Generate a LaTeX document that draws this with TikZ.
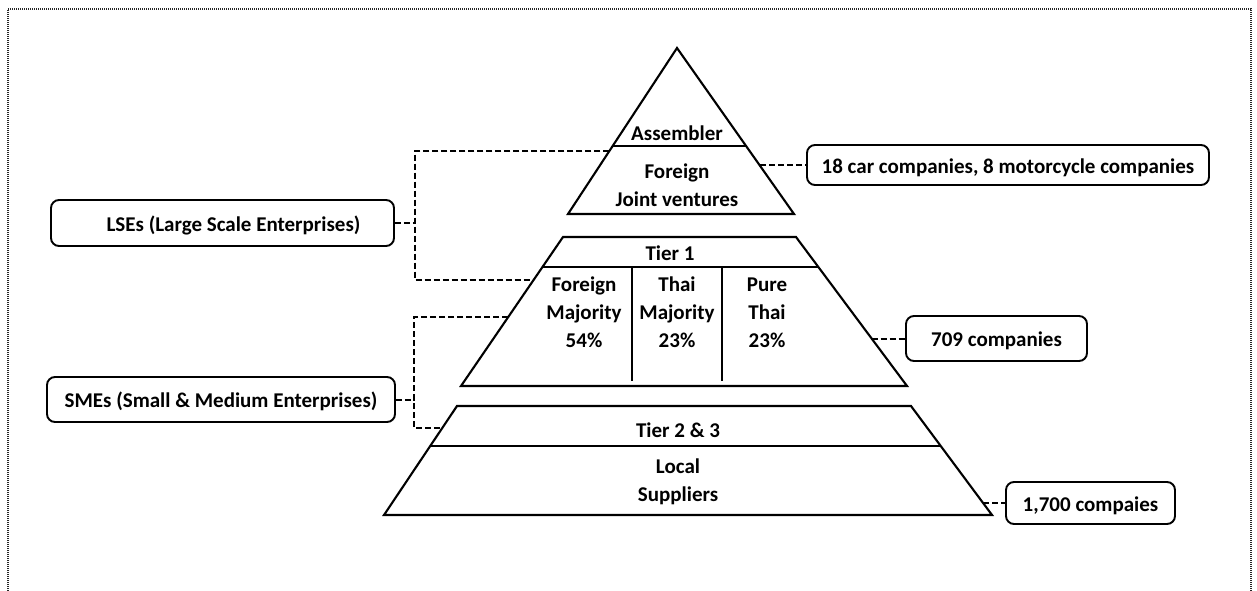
\documentclass[tikz,border=0pt]{standalone}
\usepackage{fontspec}
\setmainfont{Carlito}
\usetikzlibrary{calc}
\begin{document}
\begin{tikzpicture}[x=1pt,y=-1pt,
  pyr/.style={line width=2.1pt, line join=miter},
  lbl/.style={font=\fontsize{21}{28}\selectfont\bfseries, align=center, inner sep=0pt},
  infobox/.style={draw, line width=1.9pt, rounded corners=8pt, font=\fontsize{21}{24}\selectfont\bfseries, inner sep=0pt, text height=19pt, text depth=2.5pt},
  dashline/.style={line width=2pt, dash pattern=on 6pt off 3pt}]
\useasboundingbox (0,0) rectangle (1257,591);
\draw[dash pattern=on 1pt off 1pt, line width=1.1pt, black!85] (8,595) -- (8,9) -- (1251,9) -- (1251,595);
% pyramid
\draw[pyr] (677,48) -- (794,214) -- (568,214) -- cycle;
\draw[pyr] (613,146) -- (746,146);
\draw[pyr] (563,237) -- (796,237) -- (907,386) -- (461,386) -- cycle;
\draw[pyr] (542.5,267) -- (818.3,267);
\draw[pyr] (632,267) -- (632,381);
\draw[pyr] (722,267) -- (722,381);
\draw[pyr] (457,406) -- (911,406) -- (992,515) -- (384,515) -- cycle;
\draw[pyr] (430.2,446) -- (940.7,446);
% labels
\node[lbl] (asm) at (677,133) {Assembler};
\node[lbl] (fjv) at (677,185) {Foreign\\Joint ventures};
\node[lbl] (t1) at (670,253) {Tier 1};
\node[lbl] (fm) at (584,312.5) {Foreign\\Majority\\54\%};
\node[lbl] (tm) at (677,312.5) {Thai\\Majority\\23\%};
\node[lbl] (pt) at (767,312.5) {Pure\\Thai\\23\%};
\node[lbl] (t23) at (678,430) {Tier 2 \& 3};
\node[lbl] (ls) at (678,482) {Local\\Suppliers};
% boxes
\node[infobox, minimum width=402pt, minimum height=40pt] (car) at (1008,165) {18 car companies, 8 motorcycle companies};
\node[infobox, minimum width=181pt, minimum height=45pt] (c709) at (996.5,338.5) {709 companies};
\node[infobox, minimum width=169pt, minimum height=42pt] (c1700) at (1090.5,503) {1,700 compaies};
\node[infobox, minimum width=343pt, minimum height=46pt] (lse) at (222.5,223) {\hspace*{22pt}LSEs (Large Scale Enterprises)};
\node[infobox, minimum width=348pt, minimum height=45pt] (sme) at (221,399.5) {SMEs (Small \& Medium Enterprises)};
% connector ends
\coordinate (carE) at (760,165);
\coordinate (e709) at (871.6,338.5);
\coordinate (e1700) at (983.1,503);
\coordinate (lseTop) at (609.4,151);
\coordinate (lseBot) at (533.6,280);
\coordinate (lseBus) at (415,223);
\coordinate (smeTop) at (508,317);
\coordinate (smeBot) at (442,428);
\coordinate (smeBus) at (414,399.5);
% connectors
\draw[dashline] (carE) -- (car.west);
\draw[dashline] (e709) -- (c709.west);
\draw[dashline] (e1700) -- (c1700.west);
\draw[dashline] (lse.east) -- (lseBus);
\draw[dashline] (lseTop) -| (lseBus) |- (lseBot);
\draw[dashline] (sme.east) -- (smeBus);
\draw[dashline] (smeTop) -| (smeBus) |- (smeBot);
\end{tikzpicture}
\end{document}
